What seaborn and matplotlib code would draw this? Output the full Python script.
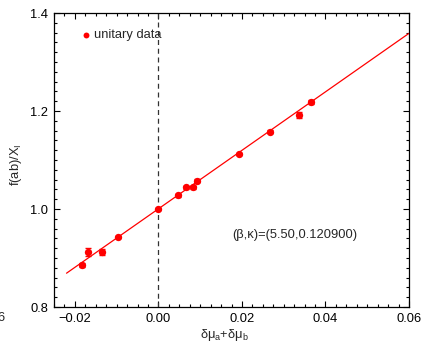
import matplotlib
matplotlib.use("Agg")
import matplotlib.pyplot as plt
import seaborn as sns
import pandas as pd
from matplotlib.ticker import MultipleLocator

sns.set_theme(style="ticks")
plt.rcParams['font.family'] = ['Liberation Sans', 'DejaVu Sans']
plt.rcParams['mathtext.fontset'] = 'custom'
plt.rcParams['mathtext.rm'] = 'Liberation Sans'
plt.rcParams['mathtext.it'] = 'Liberation Sans'

# data
dmu = [-0.0182, -0.0168, -0.0134, -0.0096, 0.0, 0.0047, 0.0067, 0.0084, 0.0092,
       0.0192, 0.0268, 0.0336, 0.0365]
ratio = [0.886, 0.912, 0.913, 0.9435, 1.0, 1.028, 1.044, 1.044, 1.058,
         1.112, 1.158, 1.191, 1.218]
err = [0.004, 0.008, 0.006, 0.002, 0.002, 0.003, 0.003, 0.003, 0.003,
       0.002, 0.003, 0.006, 0.004]
fit_x = [-0.022, 0.06]
fit_y = [0.869, 1.3585]
x_ticks = [-0.02, 0.00, 0.02, 0.04, 0.06]
x_ticklabels = ["\u22120.02", "0.00", "0.02", "0.04", "0.06"]
y_ticks = [0.8, 1.0, 1.2, 1.4]
y_ticklabels = ["0.8", "1.0", "1.2", "1.4"]

df = pd.DataFrame({"dmu": dmu, "ratio": ratio, "err": err})
fit = pd.DataFrame({"x": fit_x, "y": fit_y})

fig = plt.figure(figsize=(4.22, 3.43), dpi=100)
ax = fig.add_axes([54/422, 36/343, 355/422, 294/343])

FS = 9.3
red = "#ff0000"
ax.axvline(0.0, color="#333333", lw=0.9, ls=(0, (4, 3)), zorder=1)
sns.lineplot(data=fit, x="x", y="y", ax=ax, color=red, lw=0.9, zorder=2)
ax.errorbar(df["dmu"], df["ratio"], yerr=df["err"], fmt="none", ecolor=red,
            elinewidth=1.0, capsize=2.2, capthick=1.0, zorder=3)
sns.scatterplot(data=df, x="dmu", y="ratio", ax=ax, color=red, s=28,
                edgecolor=red, linewidth=0, zorder=4, label="unitary data")

ax.set_xlim(-0.025, 0.06)
ax.set_ylim(0.8, 1.4)
ax.set_xticks(x_ticks)
ax.set_xticklabels(x_ticklabels)
ax.set_yticks(y_ticks)
ax.set_yticklabels(y_ticklabels)
ax.xaxis.set_minor_locator(MultipleLocator(0.0025))
ax.yaxis.set_minor_locator(MultipleLocator(0.02))
ax.tick_params(which="both", direction="in", top=True, right=True,
               labelsize=FS, colors="black", pad=4)
ax.tick_params(which="major", length=4, width=0.8)
ax.tick_params(which="minor", length=2, width=0.8)
for s in ax.spines.values():
    s.set_linewidth(0.9)
    s.set_color("black")

ax.set_xlabel(r"$\delta\mu_{\mathrm{a}}$+$\delta\mu_{\mathrm{b}}$", fontsize=FS)
ax.xaxis.set_label_coords(0.48, -0.068)
ax.set_ylabel(r"f(ab)/X$_{\mathrm{I}}$", fontsize=FS)
ax.yaxis.set_label_coords(-0.085, 0.483)

leg = ax.legend(loc="upper left", bbox_to_anchor=(0.05, 0.972), frameon=False,
                fontsize=FS, handletextpad=0.1, markerscale=0.8,
                borderaxespad=0.2, handlelength=1.0)

ax.text(0.0176, 0.947, "(\u03b2,\u03ba)=(5.50,0.120900)", fontsize=FS,
        ha="left", va="center")

fig.text(6/422, 1 - 318/343, "0.06", fontsize=FS, ha="right", va="center")

fig.savefig("out.png", dpi=100)
